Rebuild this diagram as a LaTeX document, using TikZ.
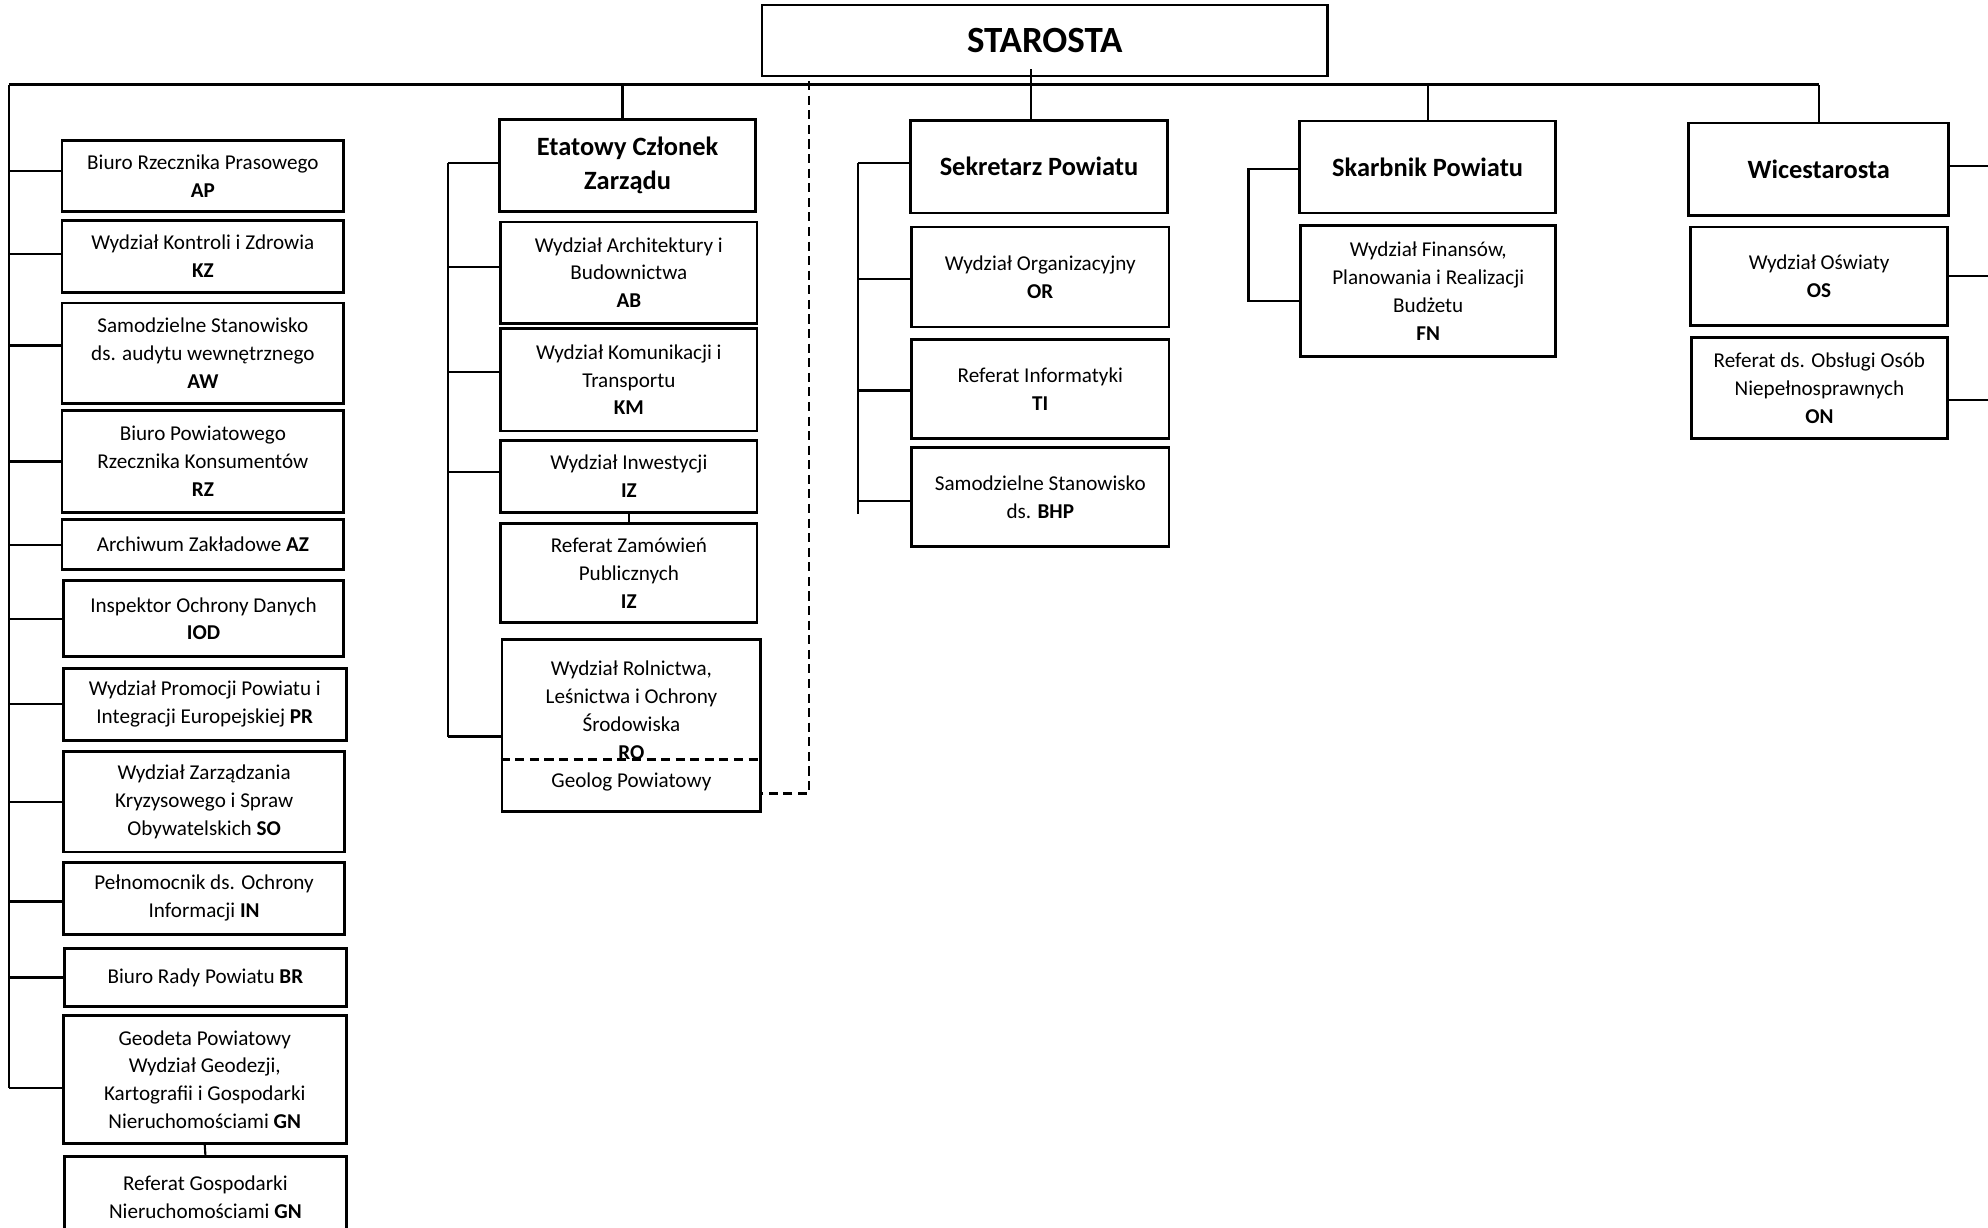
\documentclass[tikz,border=0pt]{standalone}
\usepackage{fontspec}
\setmainfont{Carlito}
\newcommand\bx[7][]{\node[box,#1,minimum width={(#5-#3)*0.6pt},minimum height={(#6-#4)*0.6pt}] (#2) at ({(#3+#5)/2},{(#4+#6)/2}) {#7};}
\tikzset{
  box/.style={draw,line width=1.3pt,inner sep=0pt,align=center,font=\fontsize{10}{13.2}\selectfont},
  head/.style={font=\fontsize{12.5}{16.2}\selectfont\bfseries},
  conn/.style={line width=1pt},
  bus/.style={line width=1.4pt},
  dashline/.style={line width=1.1pt,dash pattern=on 4.3pt off 2.6pt}
}
\begin{document}
\begin{tikzpicture}[x=0.6pt,y=-0.6pt]
\useasboundingbox (0,0) rectangle (1568,968);
% top
\bx[font=\fontsize{17.5}{20}\selectfont\bfseries]{ST}{601}{4}{1047}{60}{STAROSTA}
% left column
\bx{AP}{49}{111}{271}{167}{Biuro Rzecznika Prasowego\\\textbf{AP}}
\bx{KZ}{49}{174}{271}{230.5}{Wydział Kontroli i Zdrowia\\\textbf{KZ}}
\bx{AW}{49}{239}{271}{318}{Samodzielne Stanowisko\\ds. audytu wewnętrznego\\\textbf{AW}}
\bx{RZ}{49}{324}{271}{404}{Biuro Powiatowego\\Rzecznika Konsumentów\\\textbf{RZ}}
\bx{AZ}{49}{410}{271}{449}{Archiwum Zakładowe \textbf{AZ}}
\bx{IOD}{50}{458}{271}{518}{Inspektor Ochrony Danych\\\textbf{IOD}}
\bx{PR}{50}{527}{273}{584}{Wydział Promocji Powiatu i\\Integracji Europejskiej \textbf{PR}}
\bx{SO}{50}{593}{272}{672}{Wydział Zarządzania\\Kryzysowego i Spraw\\Obywatelskich \textbf{SO}}
\bx{IN}{50}{680}{272}{737}{Pełnomocnik ds. Ochrony\\Informacji \textbf{IN}}
\bx{BR}{51}{748}{273}{794}{Biuro Rady Powiatu \textbf{BR}}
\bx{GN}{50}{801}{273}{902}{Geodeta Powiatowy\\Wydział Geodezji,\\Kartografii i Gospodarki\\Nieruchomościami \textbf{GN}}
\bx{GNR}{51}{912}{273}{976}{Referat Gospodarki\\Nieruchomościami \textbf{GN}}
% middle column
\bx[head]{E}{394}{94}{596}{167}{Etatowy Członek\\Zarządu}
\bx{AB}{395}{175}{597}{255}{Wydział Architektury i\\Budownictwa\\\textbf{AB}}
\bx{KM}{395}{259}{597}{340}{Wydział Komunikacji i\\Transportu\\\textbf{KM}}
\bx{IZ}{395}{347.5}{597}{404}{Wydział Inwestycji\\\textbf{IZ}}
\bx{RZP}{395}{413}{597}{491}{Referat Zamówień\\Publicznych\\\textbf{IZ}}
\bx{RO}{396}{504.5}{600}{640}{}
\node[box,draw=none] (ROt) at (498,560) {Wydział Rolnictwa,\\Leśnictwa i Ochrony\\Środowiska\\\textbf{RO}};
\node[box,draw=none] (GEO) at (498,616.5) {Geolog Powiatowy};
\coordinate (ROline) at (0,599);
\draw[dashline] (RO.west |- ROline) -- (RO.east |- ROline);
% Sekretarz
\bx[head]{S}{718}{95}{921}{168}{Sekretarz Powiatu}
\bx{OR}{719}{179}{922}{258}{Wydział Organizacyjny\\\textbf{OR}}
\bx{TI}{719}{268}{922}{346}{Referat Informatyki\\\textbf{TI}}
\bx{BHP}{719}{353}{922}{431}{Samodzielne Stanowisko\\ds. \textbf{BHP}}
% Skarbnik
\bx[head]{SK}{1025}{95.5}{1227}{168}{Skarbnik Powiatu}
\bx{FN}{1026}{178}{1227}{281}{Wydział Finansów,\\Planowania i Realizacji\\Budżetu\\\textbf{FN}}
% Wicestarosta
\bx[head]{W}{1332}{97}{1537}{170}{Wicestarosta}
\bx{OS}{1333.5}{179}{1536}{257}{Wydział Oświaty\\\textbf{OS}}
\bx{ON}{1334}{266}{1536}{346}{Referat ds. Obsługi Osób\\Niepełnosprawnych\\\textbf{ON}}

% main bus
\coordinate (busL) at (7,67);
\draw[bus] (busL) -- (busL -| W.north);
% drops from bus
\coordinate (Etop) at ([xshift=-2.4pt]E.north);
\draw[conn] (Etop) -- (Etop |- busL);
\coordinate (Stop) at ([xshift=-3.6pt]S.north);
\coordinate (STl) at ([yshift=4.2pt]ST.south);
\draw[conn] (Stop) -- (Stop |- STl);
\draw[conn] (SK.north) -- (SK.north |- busL);
\draw[conn] (W.north) -- (W.north |- busL);

% left column connectors
\coordinate (APc) at ([yshift=2.4pt]AP.west);
\coordinate (KZc) at ([yshift=1.2pt]KZ.west);
\coordinate (AWc) at ([yshift=3.6pt]AW.west);
\coordinate (GNc) at ([yshift=-3.9pt]GN.west);
\coordinate (INc) at ([yshift=-1.5pt]IN.west);
\draw[conn] (busL) -- (busL |- GNc);
\foreach \n in {APc,KZc,AWc,RZ.west,AZ.west,IOD.west,PR.west,SO.west,INc,BR.west,GNc}
  \draw[conn] (\n) -- (busL |- \n);
\draw[conn] (GN.south) -- (GNR.north);

% middle connectors
\coordinate (mbus) at (353.6,0);
\coordinate (Ec) at ([yshift=1.3pt]E.west);
\coordinate (ABc) at ([yshift=2.8pt]AB.west);
\coordinate (KMc) at ([yshift=3.8pt]KM.west);
\coordinate (IZc) at ([yshift=2.2pt]IZ.west);
\coordinate (ROc) at ([yshift=-5.2pt]RO.west);
\draw[conn] (mbus |- Ec) -- (mbus |- ROc);
\foreach \n in {Ec,ABc,KMc,IZc,ROc}
  \draw[conn] (\n) -- (mbus |- \n);
\draw[conn] (IZ.south) -- (RZP.north);

% dashed link to Geolog
\coordinate (dtop) at (638,64);
\coordinate (ROd) at ([yshift=-32.2pt]RO.east);
\draw[dashline] (dtop) |- (ROd);

% Sekretarz connectors
\coordinate (sbus) at (677,0);
\coordinate (Sc) at ([yshift=1.7pt]S.west);
\coordinate (ORc) at ([yshift=-0.9pt]OR.west);
\coordinate (TIc) at ([yshift=-0.6pt]TI.west);
\coordinate (BHPc) at ([yshift=-1.9pt]BHP.west);
\coordinate (Send) at (677,405.6);
\draw[conn] (sbus |- Sc) -- (Send);
\foreach \n in {Sc,ORc,TIc,BHPc}
  \draw[conn] (\n) -- (sbus |- \n);

% Skarbnik connectors
\coordinate (kbus) at (984.7,0);
\coordinate (SKc) at ([yshift=-1pt]SK.west);
\coordinate (FNc) at ([yshift=-4.7pt]FN.west);
\draw[conn] (SKc) -| (kbus |- FNc) -- (FNc);

% Wicestarosta connectors to right edge
\coordinate (Redge) at (1575,0);
\coordinate (Wc) at ([yshift=1.5pt]W.east);
\coordinate (ONc) at ([yshift=-5.7pt]ON.east);
\foreach \n in {Wc,OS.east,ONc}
  \draw[conn] (\n) -- (Redge |- \n);
\end{tikzpicture}
\end{document}
